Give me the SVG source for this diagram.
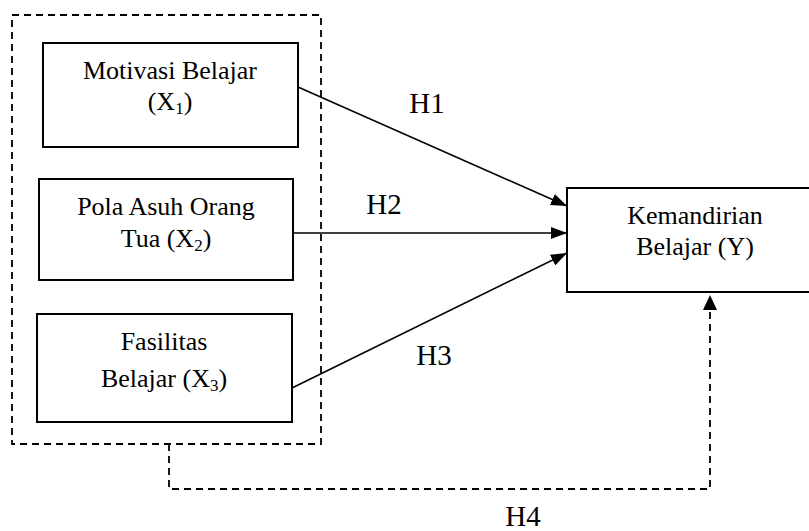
<svg xmlns="http://www.w3.org/2000/svg" width="809" height="531" viewBox="0 0 809 531">
<style>
  .box { fill: #fff; stroke: #000; stroke-width: 2; }
  .t { font-family: "Liberation Serif", "Times New Roman", serif; font-size: 26px; fill: #000; text-anchor: middle; }
  .h { font-family: "Liberation Serif", "Times New Roman", serif; font-size: 29px; fill: #000; text-anchor: middle; }
  .sub { font-size: 17px; }
  .line { stroke: #000; stroke-width: 1.6; fill: none; }
  .dash { stroke: #000; stroke-width: 1.8; fill: none; stroke-dasharray: 7 5; }
</style>
<defs>
  <marker id="arr" viewBox="0 0 16 12" refX="16" refY="6" markerWidth="16" markerHeight="12" markerUnits="userSpaceOnUse" orient="auto">
    <path d="M0,0 L16,6 L0,12 Z" fill="#000"/>
  </marker>
</defs>
<rect width="809" height="531" fill="#fff"/>
<g id="group-x">
  <rect x="12" y="15" width="309" height="429" class="dash"/>
</g>
<g id="x1">
  <rect x="43" y="43" width="255" height="104" class="box"/>
  <text class="t" x="170" y="79">Motivasi Belajar</text>
  <text class="t" x="170" y="110">(X<tspan class="sub" dy="4">1</tspan><tspan dy="-4">)</tspan></text>
</g>
<g id="x2">
  <rect x="39" y="179" width="254" height="101" class="box"/>
  <text class="t" x="166" y="215">Pola Asuh Orang</text>
  <text class="t" x="166" y="247">Tua (X<tspan class="sub" dy="4">2</tspan><tspan dy="-4">)</tspan></text>
</g>
<g id="x3">
  <rect x="37" y="314" width="255" height="108" class="box"/>
  <text class="t" x="164" y="350">Fasilitas</text>
  <text class="t" x="164" y="387">Belajar (X<tspan class="sub" dy="4">3</tspan><tspan dy="-4">)</tspan></text>
</g>
<g id="y">
  <rect x="567" y="188" width="260" height="104" class="box"/>
  <text class="t" x="695" y="224">Kemandirian</text>
  <text class="t" x="695" y="255">Belajar (Y)</text>
</g>
<g id="connectors">
  <line x1="298" y1="87" x2="567" y2="206" class="line" marker-end="url(#arr)"/>
  <line x1="293" y1="233" x2="567" y2="233" class="line" marker-end="url(#arr)"/>
  <line x1="292" y1="388" x2="567" y2="253" class="line" marker-end="url(#arr)"/>
  <path d="M169,444 V489 H710 V310" class="dash"/>
  <path d="M703,310 L710,295 L717,310 Z" fill="#000"/>
  <text class="h" x="427" y="113">H1</text>
  <text class="h" x="384" y="214">H2</text>
  <text class="h" x="434" y="365">H3</text>
  <text class="h" x="523" y="526">H4</text>
</g>
</svg>
